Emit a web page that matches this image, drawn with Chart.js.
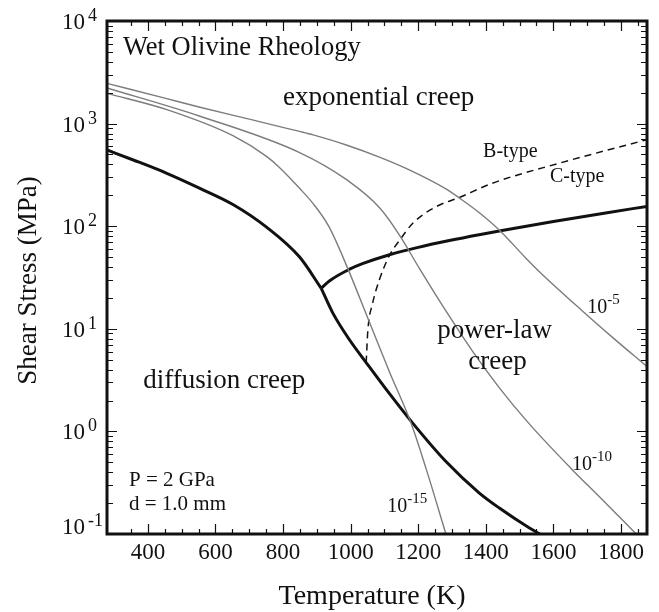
<!DOCTYPE html>
<html>
<head>
<meta charset="utf-8">
<title>Wet Olivine Rheology</title>
<script src="https://cdn.jsdelivr.net/npm/chart.js@4.4.1/dist/chart.umd.min.js"></script>
<style>
	html, body { margin:0; padding:0; background:#fff; }
	canvas { display:block; }
</style>
</head>
<body>
<canvas id="rheo" width="659" height="612"></canvas>
<script>
// deformation map, wet olivine, P = 2 GPa, d = 1 mm
// temperatures in K, shear stress in MPa

// diffusion / exponential creep boundary (up to the triple point)
const diffExpT = [279, 357, 456, 554, 653, 751, 849, 913];
const diffExpS = [553, 442, 328, 234, 162, 98, 50, 24.8];

// diffusion / power-law creep boundary
const diffPlT = [913, 947, 997, 1046, 1115, 1183, 1282, 1380, 1439, 1528, 1560];
const diffPlS = [24.8, 14.3, 7.78, 4.69, 2.33, 1.21, 0.508, 0.252, 0.18, 0.115, 0.1];

// power-law / exponential creep boundary
const plExpT = [913, 938, 997, 1035, 1115, 1200, 1292, 1380, 1448, 1600, 1750, 1877];
const plExpS = [24.8, 29.4, 38.1, 43.1, 52.7, 62.2, 72.4, 82.6, 90.8, 111, 134, 156];

// B-type / C-type fabric boundary
const fabricT = [1046, 1051, 1065, 1085, 1115, 1145, 1184, 1253, 1321, 1419, 1616, 1877];
const fabricS = [4.7, 9.7, 17.7, 30, 52, 73, 107, 155, 190, 262, 410, 698];

// strain rate contours, 1e-5, 1e-10, 1e-15 1/s
const rate5T = [279, 450, 554, 700, 790, 849, 889, 987, 1085, 1164, 1282, 1321, 1380, 1444, 1518, 1557, 1685, 1774, 1877];
const rate5S = [2470, 1770, 1445, 1104, 935, 839, 776, 619, 472, 366, 231, 189, 136, 89, 49, 36.4, 15, 8.3, 4.28];
const rate10T = [279, 554, 849, 988, 1085, 1144, 1203, 1271, 1360, 1439, 1528, 1652, 1734, 1845];
const rate10S = [2223, 1180, 522, 284, 152, 82.4, 39, 17, 6.1, 2.69, 1.19, 0.436, 0.234, 0.1];
const rate15T = [279, 456, 653, 751, 790, 849, 889, 935, 987, 1056, 1115, 1180, 1223, 1282];
const rate15S = [1972, 1368, 759, 479, 372, 234, 166, 100, 42, 11.5, 3.8, 1.175, 0.436, 0.1];

// axes
const tempRange = [279, 1877];
const stressRange = [0.1, 10000];
const xMajorTicks = [400, 600, 800, 1000, 1200, 1400, 1600, 1800];
const xMinorTicks = [350, 450, 500, 550, 650, 700, 750, 850, 900, 950, 1050, 1100, 1150, 1250, 1300, 1350, 1450, 1500, 1550, 1650, 1700, 1750, 1850];
const yDecades = [-1, 0, 1, 2, 3, 4];
const yMinorSteps = [2, 3, 4, 5, 6, 7, 8, 9];

const SERIF = "'Liberation Serif', 'Times New Roman', serif";

// text placed in data coordinates (T, stress) = left end of the baseline
const notes = [
	{ text:'Wet Olivine Rheology', T:326, s:4670, size:26.5 },
	{ text:'exponential creep', T:800, s:1517, size:27 },
	{ text:'B-type', T:1392, s:472, size:20 },
	{ text:'C-type', T:1590, s:270, size:20 },
	{ text:'power-law', T:1256, s:8.1, size:27 },
	{ text:'creep', T:1348, s:4.05, size:27 },
	{ text:'diffusion creep', T:386, s:2.65, size:27 },
	{ text:'P = 2 GPa', T:344, s:0.294, size:21 },
	{ text:'d = 1.0 mm', T:344, s:0.171, size:21 }
];
const rateLabels = [
	{ exp:'-5', T:1700, s:14.3 },
	{ exp:'-10', T:1655, s:0.421 },
	{ exp:'-15', T:1108, s:0.164 }
];

const pts = (xs, ys) => xs.map((x, i) => ({ x, y: ys[i] }));
const curve = (xs, ys, style) => Object.assign({
	data: pts(xs, ys), pointRadius:0, fill:false, cubicInterpolationMode:'monotone'
}, style);

const thick = { borderColor:'#111', borderWidth:3 };
const thin = { borderColor:'#7c7c7c', borderWidth:1.4 };
const dashed = { borderColor:'#111', borderWidth:1.5, borderDash:[7, 5] };

// "10" with a raised exponent, left aligned at x
const drawPow = (ctx, x, y, exp, baseSize, expSize, rise, gap) => {
	ctx.textAlign = 'left';
	ctx.textBaseline = 'alphabetic';
	ctx.font = `${baseSize}px ${SERIF}`;
	ctx.fillText('10', x, y);
	const w = ctx.measureText('10').width;
	ctx.font = `${expSize}px ${SERIF}`;
	ctx.fillText(exp, x + w + gap, y - rise);
};

const frame = {
	id: 'frame',
	afterDraw(chart) {
		const { ctx, chartArea: a, scales: { x, y } } = chart;
		ctx.save();
		ctx.strokeStyle = '#111';
		ctx.fillStyle = '#111';

		// inward ticks on all four sides
		ctx.lineWidth = 1.2;
		ctx.beginPath();
		const xTick = (v, len) => {
			const px = Math.round(x.getPixelForValue(v)) + 0.5;
			ctx.moveTo(px, a.bottom); ctx.lineTo(px, a.bottom - len);
			ctx.moveTo(px, a.top); ctx.lineTo(px, a.top + len);
		};
		const yTick = (v, len) => {
			const py = Math.round(y.getPixelForValue(v)) + 0.5;
			ctx.moveTo(a.left, py); ctx.lineTo(a.left + len, py);
			ctx.moveTo(a.right, py); ctx.lineTo(a.right - len, py);
		};
		xMajorTicks.forEach(v => xTick(v, 10));
		xMinorTicks.forEach(v => xTick(v, 5));
		yDecades.forEach(e => {
			yTick(Math.pow(10, e), 10);
			if (e < 4) yMinorSteps.forEach(m => yTick(m * Math.pow(10, e), 6));
		});
		ctx.stroke();

		ctx.lineWidth = 3;
		ctx.strokeRect(a.left, a.top, a.right - a.left, a.bottom - a.top);

		// tick labels
		ctx.font = `23px ${SERIF}`;
		ctx.textAlign = 'center';
		ctx.textBaseline = 'alphabetic';
		xMajorTicks.forEach(v => ctx.fillText(String(v), x.getPixelForValue(v), a.bottom + 25));
		yDecades.forEach(e => {
			const py = y.getPixelForValue(Math.pow(10, e));
			const base = Math.min(py + 8, a.bottom);
			drawPow(ctx, 62, base, String(e), 23, 18, 8, 3);
		});

		// axis titles
		ctx.font = `28px ${SERIF}`;
		ctx.textAlign = 'center';
		ctx.textBaseline = 'middle';
		ctx.fillText('Temperature (K)', (a.left + a.right) / 2 - 5, 597);
		ctx.save();
		ctx.translate(29, (a.top + a.bottom) / 2 + 3);
		ctx.rotate(-Math.PI / 2);
		ctx.font = `27px ${SERIF}`;
		ctx.fillText('Shear Stress (MPa)', 0, 0);
		ctx.restore();

		// field names and conditions
		ctx.textAlign = 'left';
		ctx.textBaseline = 'alphabetic';
		notes.forEach(n => {
			ctx.font = `${n.size}px ${SERIF}`;
			ctx.fillText(n.text, x.getPixelForValue(n.T), y.getPixelForValue(n.s));
		});
		rateLabels.forEach(r => {
			drawPow(ctx, x.getPixelForValue(r.T), y.getPixelForValue(r.s), r.exp, 20, 15, 9, 0);
		});
		ctx.restore();
	}
};

new Chart(document.getElementById('rheo'), {
	type: 'line',
	data: {
		datasets: [
			curve(rate5T, rate5S, thin),
			curve(rate10T, rate10S, thin),
			curve(rate15T, rate15S, thin),
			curve(fabricT, fabricS, dashed),
			curve(diffExpT, diffExpS, thick),
			curve(diffPlT, diffPlS, thick),
			curve(plExpT, plExpS, thick)
		]
	},
	options: {
		responsive: false,
		animation: false,
		layout: { padding: { left:107, top:21, right:12, bottom:78 } },
		scales: {
			x: { type:'linear', min:tempRange[0], max:tempRange[1], display:false },
			y: { type:'logarithmic', min:stressRange[0], max:stressRange[1], display:false }
		},
		plugins: { legend: { display:false }, tooltip: { enabled:false } }
	},
	plugins: [frame]
});
</script>
</body>
</html>
